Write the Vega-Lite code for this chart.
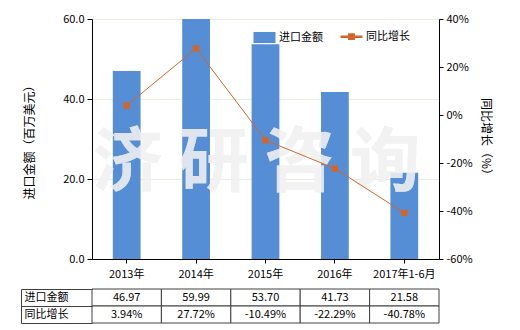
{
  "$schema": "https://vega.github.io/schema/vega-lite/v6.json",
  "padding": {"left": 20, "top": 13, "right": 5, "bottom": 5},
  "spacing": 4,
  "config": {
    "font": "Noto Sans CJK SC",
    "view": {"stroke": null},
    "axis": {"labelFont": "Noto Sans CJK SC", "titleFont": "Noto Sans CJK SC", "labelFontSize": 11, "titleFontSize": 12, "titleFontWeight": "normal", "labelColor": "#000000", "titleColor": "#000000"}
  },
  "datasets": {
    "main": [
      {"year": "2013年", "amount": 46.97, "growth": 3.94},
      {"year": "2014年", "amount": 59.99, "growth": 27.72},
      {"year": "2015年", "amount": 53.70, "growth": -10.49},
      {"year": "2016年", "amount": 41.73, "growth": -22.29},
      {"year": "2017年1-6月", "amount": 21.58, "growth": -40.78}
    ],
    "table": [
      {"year": "2013年", "row": "进口金额", "label": "46.97"},
      {"year": "2014年", "row": "进口金额", "label": "59.99"},
      {"year": "2015年", "row": "进口金额", "label": "53.70"},
      {"year": "2016年", "row": "进口金额", "label": "41.73"},
      {"year": "2017年1-6月", "row": "进口金额", "label": "21.58"},
      {"year": "2013年", "row": "同比增长", "label": "3.94%"},
      {"year": "2014年", "row": "同比增长", "label": "27.72%"},
      {"year": "2015年", "row": "同比增长", "label": "-10.49%"},
      {"year": "2016年", "row": "同比增长", "label": "-22.29%"},
      {"year": "2017年1-6月", "row": "同比增长", "label": "-40.78%"}
    ]
  },
  "vconcat": [
    {
      "width": 347,
      "height": 240,
      "data": {"name": "main"},
      "encoding": {
        "x": {"field": "year", "type": "nominal", "sort": null,
          "scale": {"paddingInner": 0, "paddingOuter": 0},
          "axis": {"title": null, "labelAngle": 0, "domainColor": "#000000", "tickColor": "#000000", "tickSize": 4, "labelPadding": 5}}
      },
      "layer": [
        {
          "layer": [
            {
              "mark": {"type": "bar", "width": {"band": 0.4}},
              "encoding": {
                "y": {"field": "amount", "type": "quantitative",
                  "scale": {"domain": [0, 60], "nice": false},
                  "axis": {"title": "进口金额（百万美元）", "values": [0, 20, 40, 60], "format": ".1f", "domainColor": "#000000", "tickColor": "#000000", "tickSize": 5, "labelPadding": 3, "titlePadding": 26, "gridColor": "#EBEBE0"}},
                "color": {"datum": "进口金额", "type": "nominal",
                  "scale": {"domain": ["进口金额", "同比增长"], "range": ["#558ED5", "#D2662A"]},
                  "legend": {
                    "title": null, "orient": "none", "legendX": 167, "legendY": 12, "direction": "horizontal",
                    "labelFontSize": 11, "labelColor": "#000000", "labelOffset": 9, "columnPadding": 12, "padding": 0,
                    "symbolSize": 484,
                    "encode": {"symbols": {"update": {
                      "shape": {"signal": "datum.value === '进口金额' ? 'M-1,-0.5H1V0.5H-1Z' : 'M-1,0H1M-0.2,-0.2H0.2V0.2H-0.2Z'"},
                      "fill": {"signal": "datum.value === '进口金额' ? '#558ED5' : '#E8904A'"},
                      "stroke": {"signal": "datum.value === '进口金额' ? 'transparent' : '#C55A11'"},
                      "strokeWidth": {"signal": "datum.value === '进口金额' ? 0 : 2.5"},
                      "opacity": {"value": 1},
                      "fillOpacity": {"value": 1}
                    }}}
                  }}
              }
            },
            {
              "mark": {"type": "text", "text": "济 研 咨 询", "fontSize": 70, "fontWeight": "bold", "font": "Noto Sans CJK SC", "color": "#F2F2F2", "opacity": 0.35, "dx": -9, "align": "center", "baseline": "middle"},
              "encoding": {
                "x": {"datum": "2015年"},
                "y": {"datum": 23.5, "type": "quantitative"}
              }
            }
          ]
        },
        {
          "mark": {"type": "line", "strokeWidth": 1, "color": "#E07B39",
            "point": {"shape": "square", "filled": true, "size": 42, "color": "#C55A11"}},
          "encoding": {
            "y": {"field": "growth", "type": "quantitative",
              "scale": {"domain": [-60, 40], "nice": false},
              "axis": {"orient": "right", "title": "同比增长（%）", "values": [-60, -40, -20, 0, 20, 40], "labelExpr": "datum.value + '%'", "grid": false, "domainColor": "#000000", "tickColor": "#000000", "tickSize": 4, "labelPadding": 3, "titlePadding": 6}},
            "color": {"datum": "同比增长", "type": "nominal"}
          }
        }
      ],
      "resolve": {"scale": {"y": "independent"}}
    },
    {
      "width": 347,
      "height": 34,
      "data": {"name": "table"},
      "encoding": {
        "x": {"field": "year", "type": "nominal", "sort": ["2013年", "2014年", "2015年", "2016年", "2017年1-6月"],
          "scale": {"paddingInner": 0, "paddingOuter": 0}, "axis": null},
        "y": {"field": "row", "type": "nominal", "sort": ["进口金额", "同比增长"],
          "scale": {"paddingInner": 0, "paddingOuter": 0},
          "axis": {"title": null, "orient": "left", "offset": 71, "domain": true, "domainColor": "#404040", "ticks": true, "tickBand": "extent", "tickSize": -71, "tickColor": "#404040", "labelAlign": "left", "labelPadding": 68, "labelFontSize": 11, "grid": false}}
      },
      "layer": [
        {"mark": {"type": "rect", "fill": "#FFFFFF", "stroke": "#404040", "strokeWidth": 1}},
        {"mark": {"type": "text", "fontSize": 11, "color": "#000000"},
          "encoding": {"text": {"field": "label"}}}
      ]
    }
  ]
}
